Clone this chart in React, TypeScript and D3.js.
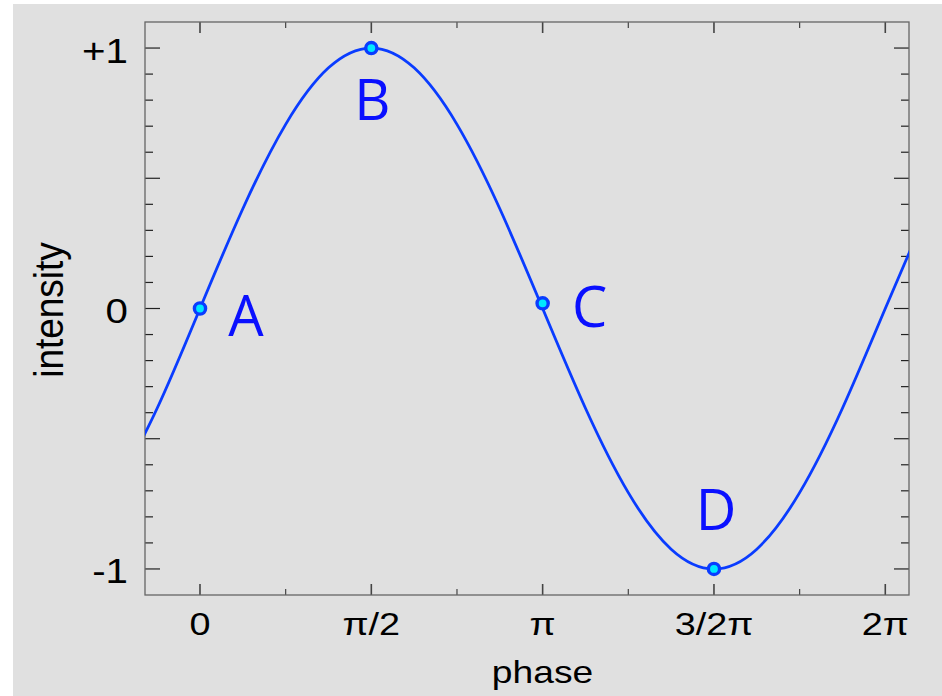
import React from "react";
import * as d3 from "d3";

// Sampled waveform (phase in multiples of π)
const PHASE = [-0.25, -0.125, 0, 0.125, 0.25, 0.375, 0.5, 0.625, 0.75, 0.875, 1, 1.125, 1.25, 1.375, 1.5, 1.625, 1.75, 1.875, 2, 2.125];
const INTENSITY = [-0.707, -0.383, 0, 0.383, 0.707, 0.924, 1, 0.924, 0.707, 0.383, 0, -0.383, -0.707, -0.924, -1, -0.924, -0.707, -0.383, 0, 0.383];

// Marked points on the wave
const MARK_LABELS = ["A", "B", "C", "D"];
const MARK_PHASE = [0, 0.5, 1, 1.5];
const MARK_INTENSITY = [0, 1, 0.02, -1];

// Axis ticks
const X_TICK_VALUES = [0, 0.5, 1, 1.5, 2];
const X_TICK_LABELS = ["0", "π/2", "π", "3/2π", "2π"];
const Y_TICK_VALUES = [-1, 0, 1];
const Y_TICK_LABELS = ["-1", "0", "+1"];

// Label offsets (px) relative to each marked point
const MARK_OFFSETS: [number, number][] = [
  [46, 27],
  [1, 72],
  [47, 24],
  [2, -39],
];

const W = 942;
const H = 696;
const PLOT = { left: 145, top: 22, right: 909, bottom: 595 };
const BLUE = "#0a3cff";
const LABEL_BLUE = "#0a10ff";
const AXIS_FONT = "'Liberation Sans', Arial, sans-serif";

export default function App() {
  const x = d3.scaleLinear().domain([-0.1605, 2.0692]).range([PLOT.left, PLOT.right]);
  const y = d3.scaleLinear().domain([-1.1, 1.1]).range([PLOT.bottom, PLOT.top]);

  const pts = PHASE.map((p, i) => [p, INTENSITY[i]] as [number, number]);
  const line = d3
    .line<[number, number]>()
    .x((d) => x(d[0]))
    .y((d) => y(d[1]))
    .curve(d3.curveNatural);

  // tick sets
  const yMinor = d3.range(-10, 11).map((k) => k / 10);
  const xMinor = d3.range(0, 9).map((k) => k / 4);

  const ticks: React.ReactNode[] = [];
  yMinor.forEach((v, i) => {
    const major = Math.abs(Math.round(v * 10)) % 5 === 0;
    const len = major ? 15 : 8;
    const yy = y(v);
    ticks.push(
      <line key={`yl${i}`} x1={PLOT.left} x2={PLOT.left + len} y1={yy} y2={yy} stroke="#222" strokeWidth={1.2} />,
      <line key={`yr${i}`} x1={PLOT.right} x2={PLOT.right - len} y1={yy} y2={yy} stroke="#222" strokeWidth={1.2} />
    );
  });
  xMinor.forEach((v, i) => {
    const major = i % 2 === 0;
    const len = major ? 11 : 6;
    const xx = x(v);
    ticks.push(
      <line key={`xb${i}`} x1={xx} x2={xx} y1={PLOT.bottom} y2={PLOT.bottom - len} stroke="#444" strokeWidth={major ? 1.6 : 1.2} />,
      <line key={`xt${i}`} x1={xx} x2={xx} y1={PLOT.top} y2={PLOT.top + len} stroke="#444" strokeWidth={major ? 1.6 : 1.2} />
    );
  });

  return (
    <svg
      width={W}
      height={H}
      viewBox={`0 0 ${W} ${H}`}
      style={{ position: "absolute", left: 0, top: 0, display: "block" }}
    >
      <rect x={0} y={0} width={W} height={H} fill="#ffffff" />
      <rect x={13} y={4} width={W - 13} height={H - 4} fill="#e0e0e0" />

      <defs>
        <clipPath id="plotClip">
          <rect x={PLOT.left} y={PLOT.top} width={PLOT.right - PLOT.left} height={PLOT.bottom - PLOT.top} />
        </clipPath>
      </defs>

      {ticks}
      <rect
        x={PLOT.left}
        y={PLOT.top}
        width={PLOT.right - PLOT.left}
        height={PLOT.bottom - PLOT.top}
        fill="none"
        stroke="#666"
        strokeWidth={1.3}
      />

      <path d={line(pts) ?? ""} fill="none" stroke={BLUE} strokeWidth={2.8} clipPath="url(#plotClip)" />

      {MARK_LABELS.map((lab, i) => (
        <circle
          key={`m${lab}`}
          cx={x(MARK_PHASE[i])}
          cy={y(MARK_INTENSITY[i])}
          r={5.6}
          fill="#00e8ff"
          stroke={BLUE}
          strokeWidth={3.4}
        />
      ))}
      {MARK_LABELS.map((lab, i) => (
        <text
          key={`t${lab}`}
          x={x(MARK_PHASE[i]) + MARK_OFFSETS[i][0]}
          y={y(MARK_INTENSITY[i]) + MARK_OFFSETS[i][1]}
          textAnchor="middle"
          fontFamily="'Open Sans', 'Noto Sans', sans-serif"
          fontSize={56}
          fill={LABEL_BLUE}
        >
          {lab}
        </text>
      ))}

      {/* y tick labels */}
      {Y_TICK_VALUES.map((v, i) => (
        <text
          key={`yt${i}`}
          transform={`translate(128,${y(v) + 14.5}) scale(1.12,1)`}
          textAnchor="end"
          fontFamily={AXIS_FONT}
          fontSize={36}
          fill="#000"
        >
          {Y_TICK_LABELS[i]}
        </text>
      ))}

      {/* x tick labels */}
      {X_TICK_VALUES.map((v, i) => (
        <text
          key={`xt${i}`}
          transform={`translate(${x(v)},${PLOT.bottom + 40}) scale(1.22,1)`}
          textAnchor="middle"
          fontFamily={AXIS_FONT}
          fontSize={31}
          fill="#000"
        >
          {X_TICK_LABELS[i]}
        </text>
      ))}

      <text
        transform={`translate(542.5,682.5) scale(1.22,1)`}
        textAnchor="middle"
        fontFamily={AXIS_FONT}
        fontSize={30.5}
        fill="#000"
      >
        phase
      </text>
      <text
        transform={`translate(62.5,310) scale(1.1,1) rotate(-90)`}
        textAnchor="middle"
        fontFamily={AXIS_FONT}
        fontSize={37}
        fill="#000"
      >
        intensity
      </text>
    </svg>
  );
}
